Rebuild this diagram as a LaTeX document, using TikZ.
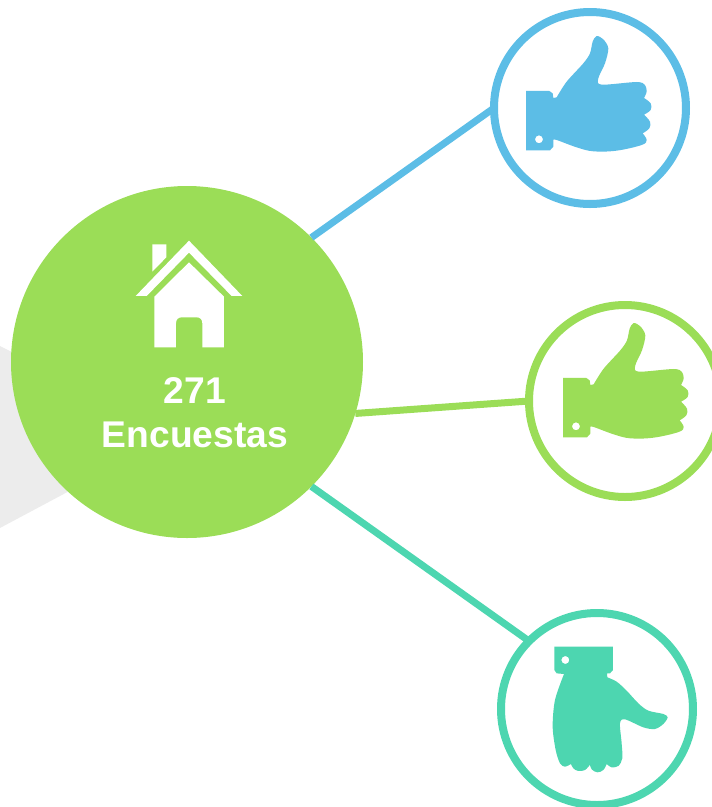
\documentclass[tikz,border=0pt]{standalone}
\usepackage{fontspec}
\setmainfont{Liberation Sans}
\definecolor{likeblue}{RGB}{92,189,230}
\definecolor{hubgreen}{RGB}{155,221,87}
\definecolor{disliketeal}{RGB}{77,214,176}
\definecolor{shadegray}{RGB}{236,236,236}
\tikzset{
  hub/.style={circle,fill=hubgreen,minimum size=352pt,inner sep=0pt,outer sep=0pt},
  ring/.style={circle,draw=#1,fill=white,line width=8pt,minimum size=192pt,inner sep=0pt,outer sep=0pt},
  spoke/.style={draw=#1,line width=7pt},
  hublabel/.style={font=\fontsize{37.2}{44}\selectfont\bfseries,text=white,align=center},
  icongrid/.style={x=0.3333pt,y=-0.3333pt},
  thumbicon/.pic={
    \fill[icongrid,even odd rule,pic actions]
      (78,243) -- (148,243) -- (158,250) -- (160,264)
      -- plot[smooth,tension=0.5] coordinates {(170,262) (200,215) (250,160) (270,130) (278,95) (290,78) (310,88) (325,115) (315,160) (295,205) (305,224) (410,216) (435,225) (440,245) (432,264)}
      -- plot[smooth,tension=0.6] coordinates {(432,264) (452,280) (452,300) (432,314)}
      -- plot[smooth,tension=0.6] coordinates {(432,314) (450,335) (448,355) (428,370)}
      -- plot[smooth,tension=0.6] coordinates {(428,370) (440,390) (425,405) (350,422) (280,424) (230,412) (170,390) (160,390)}
      -- (160,410) -- (150,421) -- (78,421) -- cycle
      (117,388) circle (12);
  },
  handicon/.pic={
    \fill[icongrid,even odd rule,pic actions]
      (133,80) -- (309,80) -- (309,150) -- (300,160) -- (291,160)
      -- plot[smooth,tension=0.5] coordinates {(292,172) (320,185) (350,212) (385,250) (415,272) (460,282) (473,292) (460,312) (435,327) (400,322) (345,298) (330,310) (335,370) (337,415) (325,438) (305,442) (290,432)}
      -- plot[smooth,tension=0.6] coordinates {(290,432) (280,450) (262,457) (245,448) (240,434)}
      -- plot[smooth,tension=0.6] coordinates {(240,434) (225,450) (205,453) (190,445) (183,432)}
      -- plot[smooth,tension=0.5] coordinates {(183,432) (165,440) (150,430) (137,390) (128,320) (135,240) (162,162)}
      -- (140,160) -- (133,150) -- cycle
      (166,120) circle (12);
  },
  houseicon/.pic={
    \begin{scope}[icongrid]
    \fill[pic actions] (207,32) -- (367,198) -- (335,198) -- (207,68) -- (80,198) -- (47,198) -- cycle;
    \fill[pic actions] (97,43) -- (139,43) -- (139,82) -- (97,125) -- cycle;
    \fill[pic actions] (207,97) -- (312,200) -- (312,352) -- (247,352) -- (247,280)
      .. controls (247,268) and (240,262) .. (230,262) -- (185,262)
      .. controls (175,262) and (168,268) .. (168,280) -- (168,352) -- (103,352) -- (103,200) -- cycle;
    \end{scope}
  },
}
\begin{document}
\begin{tikzpicture}[x=1pt,y=-1pt]
  \path[use as bounding box] (0,0) rectangle (712,807);
  \fill[shadegray] (0,346) -- (60,376) -- (90,480) -- (0,528) -- cycle;

  \node[ring=likeblue] (like) at (590,108) {};
  \node[ring=hubgreen] (neutral) at (625,401) {};
  \node[ring=disliketeal] (dislike) at (597,709) {};
  \node[hub] (center) at (187,362) {};

  \draw[spoke=likeblue] (center.45) -- (like.180);
  \draw[spoke=hubgreen] (center.-17) -- (neutral.180);
  \draw[spoke=disliketeal] (center.-45) -- (dislike.135);

  \pic[fill=white] at (120,230) {houseicon};
  \node[hublabel] (count) at (195,413) {271\\Encuestas};

  \pic[fill=likeblue] at (500,10) {thumbicon};
  \pic[fill=hubgreen] at (537,297) {thumbicon};
  \pic[fill=disliketeal] at (510,620) {handicon};
\end{tikzpicture}
\end{document}
